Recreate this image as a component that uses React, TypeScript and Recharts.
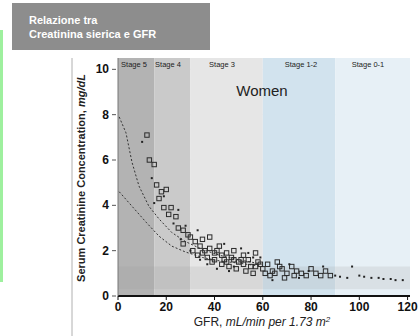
import React from 'react';
import {
    ScatterChart, Scatter, XAxis, YAxis, CartesianGrid, ReferenceArea
} from 'recharts';

// CKD stage bands (GFR ranges)
const stageNames = ['Stage 5', 'Stage 4', 'Stage 3', 'Stage 1-2', 'Stage 0-1'];
const stageFrom = [0, 15, 30, 60, 90];
const stageTo = [15, 30, 60, 90, 121];
const stageFill = ['#b3b3b3', '#cacaca', '#e6e6e6', '#d2e3ee', '#e7f0f6'];

const xTicks = [0, 20, 40, 60, 80, 100, 120];
const yTicks = [0, 1, 2, 3, 4, 5, 6, 7, 8, 9, 10];

// open squares: [GFR, creatinine]
const squares = [
    [12, 7.1], [13, 6.0], [15, 5.8], [16, 4.9], [18, 4.6], [20, 4.7], [17, 4.3], [19, 3.9],
    [21, 3.6], [22, 3.9], [24, 3.5], [25, 3.0], [27, 2.9], [29, 2.7], [30, 2.6], [32, 2.4],
    [34, 2.2], [35, 2.5], [36, 2.0], [38, 2.6], [40, 1.9], [42, 2.2], [44, 1.6], [45, 1.9],
    [47, 1.7], [48, 2.0], [50, 1.5], [52, 1.8], [54, 1.6], [55, 1.3], [57, 1.9], [58, 1.5],
    [60, 1.2], [62, 1.4], [64, 1.1], [66, 1.5], [68, 1.2], [70, 1.0], [72, 1.3], [74, 1.1],
    [76, 1.0], [78, 0.9], [80, 1.2], [82, 1.0], [84, 0.9], [86, 1.1], [88, 0.9], [27, 2.3],
    [31, 2.0], [33, 1.8], [37, 1.7], [39, 1.5], [43, 1.4], [46, 1.3], [49, 1.2], [53, 1.1],
    [56, 1.0], [61, 1.0], [63, 0.9], [65, 1.0], [69, 0.8], [73, 0.9], [41, 2.0], [51, 1.6],
    [59, 1.4], [67, 1.3], [45, 1.5], [35, 1.9], [38, 2.1], [43, 1.8], [48, 1.6], [52, 1.4],
    [57, 1.3], [40, 1.6],
];

// small dots
const dots = [
    [10, 6.8], [14, 5.2], [15, 4.1], [19, 4.4], [23, 3.2], [25, 3.8], [28, 3.1], [30, 2.0],
    [34, 1.6], [41, 1.2], [44, 2.3], [51, 2.1], [59, 1.7], [64, 0.7], [75, 0.8], [90, 0.9],
    [95, 0.8], [100, 0.9], [105, 0.8], [110, 0.75], [115, 0.7], [118, 0.7], [97, 1.3],
    [85, 1.3], [92, 0.85], [102, 0.85], [108, 0.8], [113, 0.75], [26, 2.5], [33, 2.9],
    [48, 1.3], [56, 1.7], [71, 1.4], [79, 1.1], [37, 1.4], [46, 1.1], [54, 1.9],
];

// dashed reference curves
const upperCurve = [
    [0.5, 7.9], [3.3, 7.2], [5.8, 5.9], [8.7, 4.85], [12.8, 3.96], [17, 3.4], [22.3, 2.8],
    [28, 2.4], [35, 2.05], [42, 1.8], [50, 1.6], [60, 1.4],
];
const lowerCurve = [
    [0.5, 4.6], [5.8, 3.96], [11.6, 3.26], [17, 2.64], [22.3, 2.2], [28, 1.94], [35, 1.7],
    [42, 1.55], [50, 1.45], [60, 1.3],
];

const toPts = (a: number[][]) => a.map(([x, y]) => ({ x, y }));

const Square = (p: any) => (
    <rect x={p.cx - 2.2} y={p.cy - 2.2} width={4.4} height={4.4} fill="none" stroke="#2b2b2b" strokeWidth={1} />
);
const Dot = (p: any) => <rect x={p.cx - 1} y={p.cy - 1} width={2} height={2} fill="#222" />;
const NoShape = () => <g />;

const YTick = (p: any) => {
    const v = p.payload.value;
    return (
        <g>
            <line x1={p.x + 2} x2={p.x + 6} y1={p.y} y2={p.y} stroke="#555" />
            {v % 2 === 0 && (
                <text x={p.x - 1} y={p.y + 4} textAnchor="end" fontSize={12} fontWeight="bold" fill="#111"
                    fontFamily="Liberation Sans, Arial, sans-serif">{v}</text>
            )}
        </g>
    );
};

export default function App() {
    const font = 'Liberation Sans, Arial, sans-serif';
    return (
        <div style={{ position: 'absolute', left: 0, top: 0, width: 419, height: 336, background: '#fff', overflow: 'hidden' }}>
            <ScatterChart width={419} height={336} margin={{ top: 58, right: 9, bottom: 10, left: 86 }}>
                {stageNames.map((s, i) => (
                    <ReferenceArea key={s} x1={stageFrom[i]} x2={stageTo[i]} y1={0} y2={10.5}
                        fill={stageFill[i]} fillOpacity={1} stroke="none" ifOverflow="hidden" />
                ))}
                <ReferenceArea x1={0} x2={121} y1={0.3} y2={1.3} fill="#9a9a9a" fillOpacity={0.18} stroke="none" />
                <CartesianGrid stroke="#9aa" strokeOpacity={0.25} strokeWidth={0.5}
                    horizontalValues={[0.5, 1, 1.5, 2, 2.5, 3, 4, 5, 6, 7, 8, 9, 10]}
                    verticalValues={[5, 10, 20, 25, 35, 40, 45, 50, 55, 65, 70, 75, 80, 85, 95, 100, 105, 110, 115]} />
                <XAxis type="number" dataKey="x" domain={[0, 121]} ticks={xTicks} allowDataOverflow
                    height={30} tickSize={4} tickLine={{ stroke: '#111' }}
                    axisLine={{ stroke: '#111', strokeWidth: 2 }}
                    tick={{ fontSize: 12, fontWeight: 'bold', fill: '#111', fontFamily: font }} />
                <YAxis type="number" dataKey="y" domain={[0, 10.5]} ticks={yTicks} allowDataOverflow
                    width={32} tickLine={false} axisLine={{ stroke: '#777' }} tick={<YTick />} />
                <Scatter data={toPts(upperCurve)} line={{ stroke: '#333', strokeDasharray: '2 2', strokeWidth: 1 }}
                    shape={NoShape} isAnimationActive={false} />
                <Scatter data={toPts(lowerCurve)} line={{ stroke: '#333', strokeDasharray: '2 2', strokeWidth: 1 }}
                    shape={NoShape} isAnimationActive={false} />
                <Scatter data={toPts(squares)} shape={Square} isAnimationActive={false} />
                <Scatter data={toPts(dots)} shape={Dot} isAnimationActive={false} />
            </ScatterChart>

            <svg width={419} height={336} style={{ position: 'absolute', left: 0, top: 0, pointerEvents: 'none' }}>
                {/* header bar */}
                <rect x={12} y={3} width={198} height={47} fill="#8d8d8d" />
                <text x={29} y={24} fontSize={11} fontWeight="bold" fill="#fff" fontFamily={font}>Relazione tra</text>
                <text x={29} y={38} fontSize={11} fontWeight="bold" fill="#fff" fontFamily={font}>Creatinina sierica e GFR</text>
                {/* side decoration */}
                <rect x={0} y={30} width={3} height={252} fill="#9ef09e" />
                <line x1={72} x2={72} y1={58} y2={336} stroke="#b0b0b0" strokeWidth={1} />
                {/* stage labels */}
                {[134, 168, 222, 301, 368].map((cx, i) => (
                    <text key={i} x={cx} y={67} fontSize={7.5} textAnchor="middle" fill="#222" fontFamily={font}>{stageNames[i]}</text>
                ))}
                <text x={262} y={96} fontSize={15} textAnchor="middle" fill="#222" fontFamily={font}>Women</text>
                {/* axis titles */}
                <text transform="translate(85,178) rotate(-90)" fontSize={11} fontWeight="bold" textAnchor="middle" fill="#222" fontFamily={font}>
                    Serum Creatinine Concentration, <tspan fontStyle="italic">mg/dL</tspan>
                </text>
                <text x={262} y={326} fontSize={12} textAnchor="middle" fill="#222" fontFamily={font}>
                    GFR, <tspan fontStyle="italic">mL/min per 1.73 m</tspan><tspan fontSize={8} dy={-4} fontStyle="italic">2</tspan>
                </text>
            </svg>
        </div>
    );
}
